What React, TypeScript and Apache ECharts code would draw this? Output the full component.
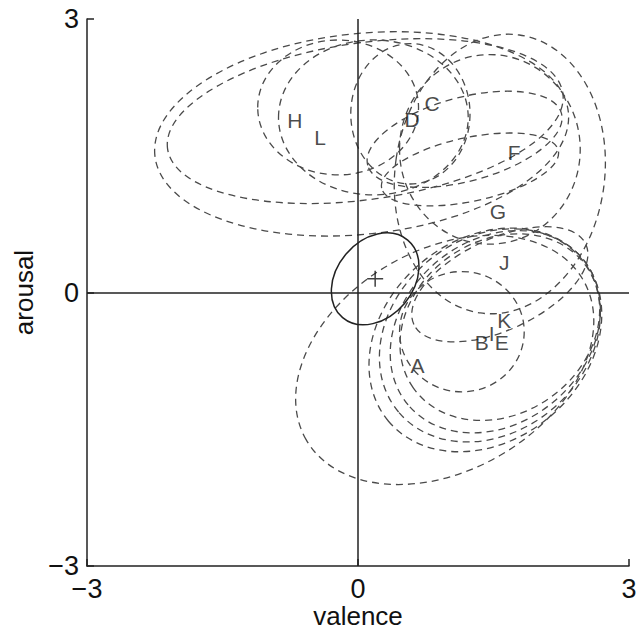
import React, { useEffect, useRef } from "react";
import * as echarts from "echarts";

// Letter labels (stimulus means) in valence / arousal units
const letterNames = ["A", "B", "C", "D", "E", "F", "G", "H", "I", "J", "K", "L"];
const letterValence = [0.66, 1.37, 0.82, 0.6, 1.59, 1.73, 1.55, -0.7, 1.48, 1.62, 1.62, -0.42];
const letterArousal = [-0.8, -0.55, 2.07, 1.9, -0.55, 1.54, 0.89, 1.89, -0.45, 0.33, -0.31, 1.7];

// Dashed ellipses: centre, semi-axes (data units), rotation (degrees, counter-clockwise)
const ellCx = [0.04, 0.08, -0.22, 0.17, 0.58, 1.57, 1.46, 1.18, 1.24, 1.41, 1.46, 1.52, 1.57, 1.15, 1.57, 0.96];
const ellCy = [1.74, 1.88, 2.03, 1.92, 1.96, 1.3, 1.57, 1.68, 1.35, -0.52, -0.47, -0.43, -0.38, -0.43, 0.09, -0.74];
const ellRx = [2.3, 2.21, 0.89, 1.05, 0.66, 1.16, 1.0, 1.11, 1.0, 1.4, 1.32, 1.26, 1.17, 0.69, 1.05, 1.77];
const ellRy = [1.1, 0.86, 0.74, 0.85, 0.77, 1.54, 1.04, 0.46, 0.35, 1.1, 1.06, 1.0, 0.95, 0.66, 0.5, 1.21];
const ellRot = [6, 8, 0, 0, 0, -8, 0, 15, 12, 40, 40, 40, 35, 0, 25, 30];

// Solid ellipse (overall mean) and its centre marker
const meanCx = [0.19];
const meanCy = [0.15];
const meanRx = [0.56];
const meanRy = [0.42];
const meanRot = [50];

const FONT = "'Liberation Sans', Arial, Helvetica, sans-serif";

export default function App() {
  const ref = useRef<HTMLDivElement>(null);

  useEffect(() => {
    if (!ref.current) return;
    const chart = echarts.init(ref.current, null, { renderer: "svg" });

    const dashedData = ellCx.map((cx, i) => [cx, ellCy[i], ellRx[i], ellRy[i], ellRot[i]]);
    const solidData = meanCx.map((cx, i) => [cx, meanCy[i], meanRx[i], meanRy[i], meanRot[i]]);
    const letterData = letterNames.map((n, i) => ({ name: n, value: [letterValence[i], letterArousal[i]] }));

    const makeRender = (dashed: boolean) => (params: any, api: any) => {
      const c = api.coord([api.value(0), api.value(1)]);
      const s = api.size([api.value(2), api.value(3)]);
      return {
        type: "ellipse",
        x: c[0],
        y: c[1],
        rotation: (api.value(4) * Math.PI) / 180,
        shape: { cx: 0, cy: 0, rx: s[0], ry: s[1] },
        style: {
          fill: "none",
          stroke: dashed ? "#4a4a4a" : "#222",
          lineWidth: dashed ? 1.3 : 1.5,
          lineDash: dashed ? [7, 5] : null,
        },
      };
    };

    const axisCommon = {
      type: "value",
      min: -3,
      max: 3,
      interval: 3,
      splitLine: { show: false },
      axisLine: { show: true, onZero: false, lineStyle: { color: "#222", width: 1.5 } },
      axisTick: { show: true, inside: true, length: 7, lineStyle: { color: "#222", width: 1.5 } },
      axisLabel: {
        fontSize: 27,
        color: "#111",
        fontFamily: FONT,
        formatter: (v: number) => (v < 0 ? "\u2212" + Math.abs(v) : String(v)),
      },
      nameLocation: "middle",
      nameMoveOverlap: false,
      nameTextStyle: { fontSize: 26, color: "#111", fontFamily: FONT },
    };

    chart.setOption({
      animation: false,
      backgroundColor: "#fff",
      grid: { left: 87, right: 14, top: 19, bottom: 66, containLabel: false, outerBoundsMode: "none" },
      xAxis: {
        ...axisCommon,
        name: "valence",
        nameGap: 50,
        nameTextStyle: { ...axisCommon.nameTextStyle, verticalAlign: "middle" },
        axisLabel: { ...axisCommon.axisLabel, margin: 9 },
      },
      yAxis: { ...axisCommon, name: "arousal", nameGap: 50, axisLabel: { ...axisCommon.axisLabel, margin: 8 } },
      series: [
        {
          type: "custom",
          renderItem: makeRender(true),
          data: dashedData,
          silent: true,
          z: 2,
        },
        {
          type: "custom",
          renderItem: makeRender(false),
          data: solidData,
          silent: true,
          z: 3,
        },
        {
          type: "scatter",
          data: [[meanCx[0], meanCy[0]]],
          symbol: "path://M0,8 L16,8 M8,0 L8,16",
          symbolSize: 16,
          itemStyle: { color: "rgba(0,0,0,0)", borderColor: "#111", borderWidth: 1.5 },
          silent: true,
          z: 4,
          markLine: {
            silent: true,
            symbol: "none",
            label: { show: false },
            lineStyle: { color: "#222", width: 1.5, type: "solid" },
            data: [{ xAxis: 0 }, { yAxis: 0 }],
          },
        },
        {
          type: "scatter",
          data: letterData,
          symbolSize: 1,
          itemStyle: { color: "rgba(0,0,0,0)" },
          silent: true,
          z: 5,
          label: {
            show: true,
            position: "inside",
            formatter: "{b}",
            fontSize: 21,
            color: "#1a1a1a",
            fontFamily: FONT,
          },
        },
      ],
    });

    return () => chart.dispose();
  }, []);

  return (
    <div
      ref={ref}
      style={{ position: "fixed", left: 0, top: 0, width: 643, height: 632, background: "#fff" }}
    />
  );
}
